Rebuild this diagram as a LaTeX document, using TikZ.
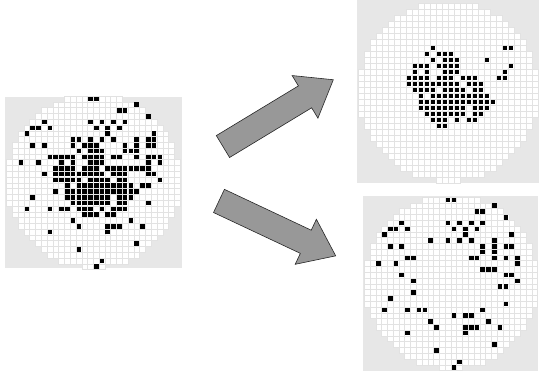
\documentclass[tikz,border=0pt]{standalone}
\usepackage{tikz}
\usetikzlibrary{shapes.arrows}
\definecolor{waferGrey}{RGB}{231,231,231}
\definecolor{waferGrid}{RGB}{226,226,226}
\definecolor{arrowGrey}{RGB}{152,152,152}
\tikzset{
  waferbox/.style={
    rectangle, fill=waferGrey, draw=none, inner sep=0pt
  },
  diecell/.style={fill=white, draw=waferGrid, line width=0.5pt},
  baddie/.style={fill=black},
  flowarrow/.style={
    single arrow, draw=black!85, fill=arrowGrey, line width=0.6pt,
    inner xsep=0pt, inner ysep=12.5pt, minimum height=129pt,
    single arrow head extend=12.1pt, single arrow tip angle=74,
    anchor=tail
  },
}

% dies on the wafer: #1,#2 centre of die (0,0), #3 pitch
\newcommand{\wafergrid}[3]{%
  \foreach \c in {0,...,29}{
    \foreach \r in {0,...,29}{
      \pgfmathtruncatemacro{\onwafer}{((\c-14.5)*(\c-14.5)+(\r-14.2)*(\r-14.2)<=225)}
      \ifnum\onwafer=1
        \filldraw[diecell] ({#1+#3*(\c-0.5)},{#2+#3*(\r-0.5)}) rectangle ++(#3,#3);
      \fi
    }
  }
}
% failing dies: same origin and pitch, #4 list col/row
\newcommand{\faildies}[4]{%
  \foreach \c/\r in #4{
    \fill[baddie] ({#1+#3*(\c-0.4)},{#2+#3*(\r-0.4)}) rectangle ++({0.8*#3},{0.8*#3});
  }
}

\def\clusterdies{12/7,24/7,25/7,
  11/8,13/8,14/8,15/8,
  12/9,14/9,15/9,16/9,21/9,
  9/10,10/10,11/10,13/10,14/10,15/10,16/10,25/10,
  9/11,11/11,14/11,15/11,16/11,24/11,
  8/12,9/12,10/12,11/12,13/12,14/12,15/12,17/12,18/12,19/12,23/12,24/12,
  8/13,9/13,10/13,11/13,12/13,13/13,14/13,15/13,16/13,18/13,19/13,20/13,
  9/14,10/14,11/14,12/14,14/14,15/14,16/14,17/14,19/14,20/14,
  10/15,12/15,13/15,14/15,15/15,16/15,17/15,18/15,19/15,20/15,21/15,
  10/16,11/16,12/16,13/16,14/16,15/16,16/16,17/16,18/16,19/16,20/16,21/16,22/16,
  10/17,11/17,12/17,13/17,14/17,15/17,16/17,17/17,19/17,20/17,21/17,
  11/18,12/18,13/18,14/18,15/18,16/18,17/18,19/18,20/18,
  12/19,13/19,14/19,16/19,18/19,19/19,
  13/20,14/20}

\def\randomdies{14/0,15/0,22/1,19/2,20/2,24/3,
  6/4,14/4,16/4,18/4,20/4,
  4/5,5/5,7/5,15/5,17/5,19/5,
  3/6,17/6,25/6,
  11/7,14/7,16/7,18/7,22/7,
  4/8,6/8,20/8,22/8,24/8,25/8,
  20/9,22/9,
  7/10,8/10,18/10,19/10,22/10,24/10,26/10,
  2/11,5/11,26/11,
  20/12,21/12,22/12,
  6/13,24/13,25/13,
  8/14,26/14,
  23/15,24/15,
  8/16,4/17,24/18,
  3/19,7/19,9/19,10/19,20/19,
  15/20,17/20,18/20,
  11/21,21/21,
  12/22,17/22,18/22,19/22,23/22,
  7/23,17/23,
  22/25,12/26,16/28,15/29}

\begin{document}
\begin{tikzpicture}[x=1pt,y=-1pt]
  \useasboundingbox (0,0) rectangle (539,376);

  % wafer backgrounds
  \node[waferbox, minimum width=177pt, minimum height=171.5pt] (mixed)   at (93.5,182.25) {};
  \node[waferbox, minimum width=182pt, minimum height=183pt]   (cluster) at (448,91.5)    {};
  \node[waferbox, minimum width=175pt, minimum height=175pt]   (random)  at (450.5,283)   {};

  % mixed pattern = cluster + random
  \wafergrid{9.5}{99}{5.783}
  \faildies{9.5}{99}{5.783}{\clusterdies}
  \faildies{9.5}{99}{5.783}{\randomdies}

  % cluster part
  \wafergrid{361}{6}{6.0}
  \faildies{361}{6}{6.0}{\clusterdies}

  % random part
  \wafergrid{367.1}{200}{5.783}
  \faildies{367.1}{200}{5.783}{\randomdies}

  % decomposition arrows
  \node[flowarrow, rotate=31.2]  (toCluster) at (222.7,146.7) {};
  \node[flowarrow, rotate=-25.2] (toRandom)  at (218.7,200.8) {};
\end{tikzpicture}
\end{document}
